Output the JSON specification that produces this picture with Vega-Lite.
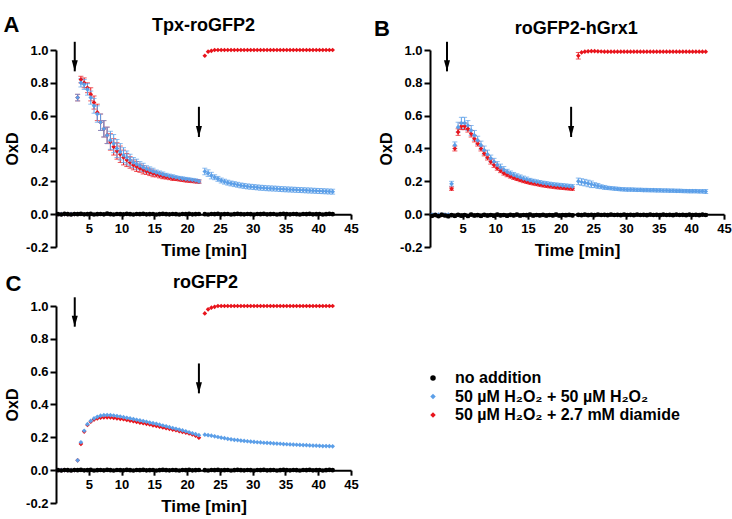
{
"$schema":"https://vega.github.io/schema/vega-lite/v6.json",
"padding":{"left":3,"top":13,"right":0,"bottom":0},
"background":"white",
"datasets":{
"A":[
{"s":"r","t":0.3,"v":0},{"s":"r","t":0.8,"v":0},{"s":"r","t":1.3,"v":0},{"s":"r","t":1.8,"v":0},{"s":"r","t":2.3,"v":0},{"s":"r","t":2.8,"v":0},
{"s":"r","t":3.3,"v":0.71,"e":0.02},{"s":"r","t":3.8,"v":0.82,"e":0.02},{"s":"r","t":4.3,"v":0.8,"e":0.03},{"s":"r","t":4.8,"v":0.77,"e":0.03},{"s":"r","t":5.3,"v":0.73,"e":0.04},{"s":"r","t":5.8,"v":0.68,"e":0.04},{"s":"r","t":6.3,"v":0.62,"e":0.05},{"s":"r","t":6.8,"v":0.56,"e":0.05},{"s":"r","t":7.3,"v":0.52,"e":0.05},{"s":"r","t":7.8,"v":0.48,"e":0.05},{"s":"r","t":8.3,"v":0.44,"e":0.05},{"s":"r","t":8.8,"v":0.41,"e":0.05},{"s":"r","t":9.3,"v":0.385,"e":0.05},{"s":"r","t":9.8,"v":0.365,"e":0.05},{"s":"r","t":10.3,"v":0.345,"e":0.045},{"s":"r","t":10.8,"v":0.33,"e":0.04},{"s":"r","t":11.3,"v":0.315,"e":0.035},{"s":"r","t":11.8,"v":0.3,"e":0.03},{"s":"r","t":12.3,"v":0.29,"e":0.03},{"s":"r","t":12.8,"v":0.28,"e":0.025},{"s":"r","t":13.3,"v":0.27,"e":0.025},{"s":"r","t":13.8,"v":0.262,"e":0.02},{"s":"r","t":14.3,"v":0.255,"e":0.02},{"s":"r","t":14.8,"v":0.248,"e":0.02},{"s":"r","t":15.3,"v":0.242,"e":0.015},{"s":"r","t":15.8,"v":0.236,"e":0.015},{"s":"r","t":16.3,"v":0.231,"e":0.015},{"s":"r","t":16.8,"v":0.226,"e":0.012},{"s":"r","t":17.3,"v":0.222,"e":0.012},{"s":"r","t":17.8,"v":0.218,"e":0.012},{"s":"r","t":18.3,"v":0.215,"e":0.01},{"s":"r","t":18.8,"v":0.212,"e":0.01},{"s":"r","t":19.3,"v":0.209,"e":0.01},{"s":"r","t":19.8,"v":0.206,"e":0.01},{"s":"r","t":20.3,"v":0.204,"e":0.01},{"s":"r","t":20.8,"v":0.202,"e":0.01},{"s":"r","t":21.3,"v":0.2,"e":0.01},{"s":"r","t":21.8,"v":0.198,"e":0.01},
{"s":"r","t":22.7,"v":0.965},{"s":"r","t":23.2,"v":0.99},{"s":"r","t":23.7,"v":0.995},{"s":"r","t":24.2,"v":1},{"s":"r","t":24.7,"v":1},{"s":"r","t":25.2,"v":1},{"s":"r","t":25.7,"v":1},{"s":"r","t":26.2,"v":1},{"s":"r","t":26.7,"v":1},{"s":"r","t":27.2,"v":1},{"s":"r","t":27.7,"v":1},{"s":"r","t":28.2,"v":1},{"s":"r","t":28.7,"v":1},{"s":"r","t":29.2,"v":1},{"s":"r","t":29.7,"v":1},{"s":"r","t":30.2,"v":1},{"s":"r","t":30.7,"v":1},{"s":"r","t":31.2,"v":1},{"s":"r","t":31.7,"v":1},{"s":"r","t":32.2,"v":1},{"s":"r","t":32.7,"v":1},{"s":"r","t":33.2,"v":1},{"s":"r","t":33.7,"v":1},{"s":"r","t":34.2,"v":1},{"s":"r","t":34.7,"v":1},{"s":"r","t":35.2,"v":1},{"s":"r","t":35.7,"v":1},{"s":"r","t":36.2,"v":1},{"s":"r","t":36.7,"v":1},{"s":"r","t":37.2,"v":1},{"s":"r","t":37.7,"v":1},{"s":"r","t":38.2,"v":1},{"s":"r","t":38.7,"v":1},{"s":"r","t":39.2,"v":1},{"s":"r","t":39.7,"v":1},{"s":"r","t":40.2,"v":1},{"s":"r","t":40.7,"v":1},{"s":"r","t":41.2,"v":1},{"s":"r","t":41.7,"v":1},{"s":"r","t":42.2,"v":1},
{"s":"b","t":0.3,"v":0},{"s":"b","t":0.8,"v":0},{"s":"b","t":1.3,"v":0},{"s":"b","t":1.8,"v":0},{"s":"b","t":2.3,"v":0},{"s":"b","t":2.8,"v":0},
{"s":"b","t":3.3,"v":0.71,"e":0.02},{"s":"b","t":3.8,"v":0.8,"e":0.025},{"s":"b","t":4.3,"v":0.79,"e":0.03},{"s":"b","t":4.8,"v":0.76,"e":0.035},{"s":"b","t":5.3,"v":0.71,"e":0.04},{"s":"b","t":5.8,"v":0.66,"e":0.045},{"s":"b","t":6.3,"v":0.61,"e":0.05},{"s":"b","t":6.8,"v":0.56,"e":0.05},{"s":"b","t":7.3,"v":0.52,"e":0.05},{"s":"b","t":7.8,"v":0.48,"e":0.05},{"s":"b","t":8.3,"v":0.45,"e":0.055},{"s":"b","t":8.8,"v":0.43,"e":0.055},{"s":"b","t":9.3,"v":0.4,"e":0.055},{"s":"b","t":9.8,"v":0.38,"e":0.05},{"s":"b","t":10.3,"v":0.36,"e":0.045},{"s":"b","t":10.8,"v":0.345,"e":0.04},{"s":"b","t":11.3,"v":0.33,"e":0.035},{"s":"b","t":11.8,"v":0.315,"e":0.03},{"s":"b","t":12.3,"v":0.305,"e":0.03},{"s":"b","t":12.8,"v":0.295,"e":0.025},{"s":"b","t":13.3,"v":0.285,"e":0.025},{"s":"b","t":13.8,"v":0.275,"e":0.02},{"s":"b","t":14.3,"v":0.268,"e":0.02},{"s":"b","t":14.8,"v":0.26,"e":0.02},{"s":"b","t":15.3,"v":0.254,"e":0.015},{"s":"b","t":15.8,"v":0.248,"e":0.015},{"s":"b","t":16.3,"v":0.242,"e":0.015},{"s":"b","t":16.8,"v":0.237,"e":0.012},{"s":"b","t":17.3,"v":0.232,"e":0.012},{"s":"b","t":17.8,"v":0.228,"e":0.012},{"s":"b","t":18.3,"v":0.224,"e":0.01},{"s":"b","t":18.8,"v":0.22,"e":0.01},{"s":"b","t":19.3,"v":0.217,"e":0.01},{"s":"b","t":19.8,"v":0.214,"e":0.01},{"s":"b","t":20.3,"v":0.211,"e":0.01},{"s":"b","t":20.8,"v":0.208,"e":0.01},{"s":"b","t":21.3,"v":0.205,"e":0.01},{"s":"b","t":21.8,"v":0.2,"e":0.01},
{"s":"b","t":22.7,"v":0.26,"e":0.02},{"s":"b","t":23.2,"v":0.25,"e":0.02},{"s":"b","t":23.7,"v":0.235,"e":0.02},{"s":"b","t":24.2,"v":0.225,"e":0.015},{"s":"b","t":24.7,"v":0.215,"e":0.015},{"s":"b","t":25.2,"v":0.205,"e":0.015},{"s":"b","t":25.7,"v":0.198,"e":0.015},{"s":"b","t":26.2,"v":0.192,"e":0.015},{"s":"b","t":26.7,"v":0.187,"e":0.015},{"s":"b","t":27.2,"v":0.183,"e":0.015},{"s":"b","t":27.7,"v":0.179,"e":0.015},{"s":"b","t":28.2,"v":0.175,"e":0.015},{"s":"b","t":28.7,"v":0.172,"e":0.015},{"s":"b","t":29.2,"v":0.169,"e":0.015},{"s":"b","t":29.7,"v":0.167,"e":0.015},{"s":"b","t":30.2,"v":0.165,"e":0.015},{"s":"b","t":30.7,"v":0.163,"e":0.015},{"s":"b","t":31.2,"v":0.161,"e":0.015},{"s":"b","t":31.7,"v":0.16,"e":0.015},{"s":"b","t":32.2,"v":0.158,"e":0.015},{"s":"b","t":32.7,"v":0.157,"e":0.015},{"s":"b","t":33.2,"v":0.156,"e":0.015},{"s":"b","t":33.7,"v":0.155,"e":0.015},{"s":"b","t":34.2,"v":0.153,"e":0.015},{"s":"b","t":34.7,"v":0.152,"e":0.015},{"s":"b","t":35.2,"v":0.151,"e":0.015},{"s":"b","t":35.7,"v":0.15,"e":0.015},{"s":"b","t":36.2,"v":0.149,"e":0.015},{"s":"b","t":36.7,"v":0.148,"e":0.015},{"s":"b","t":37.2,"v":0.147,"e":0.015},{"s":"b","t":37.7,"v":0.146,"e":0.015},{"s":"b","t":38.2,"v":0.145,"e":0.015},{"s":"b","t":38.7,"v":0.144,"e":0.015},{"s":"b","t":39.2,"v":0.143,"e":0.015},{"s":"b","t":39.7,"v":0.142,"e":0.015},{"s":"b","t":40.2,"v":0.141,"e":0.015},{"s":"b","t":40.7,"v":0.14,"e":0.015},{"s":"b","t":41.2,"v":0.139,"e":0.015},{"s":"b","t":41.7,"v":0.138,"e":0.015},{"s":"b","t":42.2,"v":0.137,"e":0.015},
{"s":"n","t":0.3,"v":0},{"s":"n","t":0.8,"v":-0.002},{"s":"n","t":1.3,"v":0.002},{"s":"n","t":1.8,"v":0},{"s":"n","t":2.3,"v":-0.002},{"s":"n","t":2.8,"v":0.001},{"s":"n","t":3.3,"v":0},{"s":"n","t":3.8,"v":0.002},{"s":"n","t":4.3,"v":-0.001},{"s":"n","t":4.8,"v":0},{"s":"n","t":5.3,"v":0.002},{"s":"n","t":5.8,"v":-0.002},{"s":"n","t":6.3,"v":0},{"s":"n","t":6.8,"v":0.001},{"s":"n","t":7.3,"v":-0.001},{"s":"n","t":7.8,"v":0.004},{"s":"n","t":8.3,"v":0},{"s":"n","t":8.8,"v":-0.002},{"s":"n","t":9.3,"v":0.001},{"s":"n","t":9.8,"v":0},{"s":"n","t":10.3,"v":-0.001},{"s":"n","t":10.8,"v":0.002},{"s":"n","t":11.3,"v":0},{"s":"n","t":11.8,"v":-0.002},{"s":"n","t":12.3,"v":0.001},{"s":"n","t":12.8,"v":0},{"s":"n","t":13.3,"v":0.002},{"s":"n","t":13.8,"v":-0.001},{"s":"n","t":14.3,"v":0},{"s":"n","t":14.8,"v":0.001},{"s":"n","t":15.3,"v":-0.002},{"s":"n","t":15.8,"v":0},{"s":"n","t":16.3,"v":0.002},{"s":"n","t":16.8,"v":0},{"s":"n","t":17.3,"v":-0.001},{"s":"n","t":17.8,"v":0.001},{"s":"n","t":18.3,"v":0},{"s":"n","t":18.8,"v":-0.002},{"s":"n","t":19.3,"v":0.001},{"s":"n","t":19.8,"v":0},{"s":"n","t":20.3,"v":0.002},{"s":"n","t":20.8,"v":-0.001},{"s":"n","t":21.3,"v":0},{"s":"n","t":21.8,"v":0.001},
{"s":"n","t":22.7,"v":0},{"s":"n","t":23.2,"v":-0.002},{"s":"n","t":23.7,"v":0.001},{"s":"n","t":24.2,"v":0},{"s":"n","t":24.7,"v":0.002},{"s":"n","t":25.2,"v":-0.001},{"s":"n","t":25.7,"v":0},{"s":"n","t":26.2,"v":0.001},{"s":"n","t":26.7,"v":-0.002},{"s":"n","t":27.2,"v":0},{"s":"n","t":27.7,"v":0.002},{"s":"n","t":28.2,"v":0},{"s":"n","t":28.7,"v":-0.001},{"s":"n","t":29.2,"v":0.001},{"s":"n","t":29.7,"v":0},{"s":"n","t":30.2,"v":-0.002},{"s":"n","t":30.7,"v":0.001},{"s":"n","t":31.2,"v":0},{"s":"n","t":31.7,"v":0.002},{"s":"n","t":32.2,"v":-0.001},{"s":"n","t":32.7,"v":0},{"s":"n","t":33.2,"v":0.001},{"s":"n","t":33.7,"v":-0.002},{"s":"n","t":34.2,"v":0},{"s":"n","t":34.7,"v":0.002},{"s":"n","t":35.2,"v":0},{"s":"n","t":35.7,"v":-0.001},{"s":"n","t":36.2,"v":0.001},{"s":"n","t":36.7,"v":0},{"s":"n","t":37.2,"v":-0.002},{"s":"n","t":37.7,"v":0.001},{"s":"n","t":38.2,"v":0},{"s":"n","t":38.7,"v":0.002},{"s":"n","t":39.2,"v":-0.001},{"s":"n","t":39.7,"v":0},{"s":"n","t":40.2,"v":0.001},{"s":"n","t":40.7,"v":-0.002},{"s":"n","t":41.2,"v":0},{"s":"n","t":41.7,"v":0.002},{"s":"n","t":42.2,"v":0}
],
"B":[
{"s":"r","t":0.3,"v":-0.005},{"s":"r","t":0.8,"v":-0.005},{"s":"r","t":1.3,"v":-0.005},{"s":"r","t":1.8,"v":-0.005},{"s":"r","t":2.3,"v":-0.005},{"s":"r","t":2.8,"v":-0.005},
{"s":"r","t":3.3,"v":0.155,"e":0.01},{"s":"r","t":3.8,"v":0.4,"e":0.015},{"s":"r","t":4.3,"v":0.5,"e":0.02},{"s":"r","t":4.8,"v":0.535,"e":0.02},{"s":"r","t":5.3,"v":0.535,"e":0.02},{"s":"r","t":5.8,"v":0.52,"e":0.02},{"s":"r","t":6.3,"v":0.49,"e":0.02},{"s":"r","t":6.8,"v":0.46,"e":0.02},{"s":"r","t":7.3,"v":0.43,"e":0.015},{"s":"r","t":7.8,"v":0.4,"e":0.015},{"s":"r","t":8.3,"v":0.37,"e":0.015},{"s":"r","t":8.8,"v":0.345,"e":0.015},{"s":"r","t":9.3,"v":0.32,"e":0.015},{"s":"r","t":9.8,"v":0.3,"e":0.015},{"s":"r","t":10.3,"v":0.28,"e":0.012},{"s":"r","t":10.8,"v":0.265,"e":0.012},{"s":"r","t":11.3,"v":0.25,"e":0.012},{"s":"r","t":11.8,"v":0.24,"e":0.012},{"s":"r","t":12.3,"v":0.23,"e":0.01},{"s":"r","t":12.8,"v":0.222,"e":0.01},{"s":"r","t":13.3,"v":0.215,"e":0.01},{"s":"r","t":13.8,"v":0.208,"e":0.01},{"s":"r","t":14.3,"v":0.202,"e":0.01},{"s":"r","t":14.8,"v":0.197,"e":0.01},{"s":"r","t":15.3,"v":0.192,"e":0.01},{"s":"r","t":15.8,"v":0.188,"e":0.01},{"s":"r","t":16.3,"v":0.184,"e":0.01},{"s":"r","t":16.8,"v":0.18,"e":0.01},{"s":"r","t":17.3,"v":0.176,"e":0.01},{"s":"r","t":17.8,"v":0.173,"e":0.01},{"s":"r","t":18.3,"v":0.17,"e":0.01},{"s":"r","t":18.8,"v":0.168,"e":0.01},{"s":"r","t":19.3,"v":0.165,"e":0.01},{"s":"r","t":19.8,"v":0.163,"e":0.01},{"s":"r","t":20.3,"v":0.161,"e":0.01},{"s":"r","t":20.8,"v":0.159,"e":0.01},{"s":"r","t":21.3,"v":0.157,"e":0.01},{"s":"r","t":21.8,"v":0.155,"e":0.01},
{"s":"r","t":22.7,"v":0.965,"e":0.02},{"s":"r","t":23.2,"v":0.985},{"s":"r","t":23.7,"v":0.99},{"s":"r","t":24.2,"v":0.992},{"s":"r","t":24.7,"v":0.993},{"s":"r","t":25.2,"v":0.993},{"s":"r","t":25.7,"v":0.992},{"s":"r","t":26.2,"v":0.991},{"s":"r","t":26.7,"v":0.99},{"s":"r","t":27.2,"v":0.99},{"s":"r","t":27.7,"v":0.99},{"s":"r","t":28.2,"v":0.99},{"s":"r","t":28.7,"v":0.99},{"s":"r","t":29.2,"v":0.99},{"s":"r","t":29.7,"v":0.99},{"s":"r","t":30.2,"v":0.99},{"s":"r","t":30.7,"v":0.99},{"s":"r","t":31.2,"v":0.99},{"s":"r","t":31.7,"v":0.99},{"s":"r","t":32.2,"v":0.99},{"s":"r","t":32.7,"v":0.99},{"s":"r","t":33.2,"v":0.99},{"s":"r","t":33.7,"v":0.99},{"s":"r","t":34.2,"v":0.99},{"s":"r","t":34.7,"v":0.99},{"s":"r","t":35.2,"v":0.99},{"s":"r","t":35.7,"v":0.99},{"s":"r","t":36.2,"v":0.99},{"s":"r","t":36.7,"v":0.99},{"s":"r","t":37.2,"v":0.99},{"s":"r","t":37.7,"v":0.99},{"s":"r","t":38.2,"v":0.99},{"s":"r","t":38.7,"v":0.99},{"s":"r","t":39.2,"v":0.99},{"s":"r","t":39.7,"v":0.99},{"s":"r","t":40.2,"v":0.99},{"s":"r","t":40.7,"v":0.99},{"s":"r","t":41.2,"v":0.99},{"s":"r","t":41.7,"v":0.99},{"s":"r","t":42.2,"v":0.99},
{"s":"b","t":0.3,"v":-0.003},{"s":"b","t":0.8,"v":-0.003},{"s":"b","t":1.3,"v":-0.003},{"s":"b","t":1.8,"v":-0.003},{"s":"b","t":2.3,"v":-0.003},{"s":"b","t":2.8,"v":-0.003},
{"s":"b","t":3.3,"v":0.185,"e":0.015},{"s":"b","t":3.8,"v":0.42,"e":0.02},{"s":"b","t":4.3,"v":0.53,"e":0.03},{"s":"b","t":4.8,"v":0.555,"e":0.035},{"s":"b","t":5.3,"v":0.555,"e":0.035},{"s":"b","t":5.8,"v":0.54,"e":0.03},{"s":"b","t":6.3,"v":0.51,"e":0.03},{"s":"b","t":6.8,"v":0.48,"e":0.03},{"s":"b","t":7.3,"v":0.45,"e":0.025},{"s":"b","t":7.8,"v":0.42,"e":0.025},{"s":"b","t":8.3,"v":0.39,"e":0.025},{"s":"b","t":8.8,"v":0.365,"e":0.025},{"s":"b","t":9.3,"v":0.34,"e":0.02},{"s":"b","t":9.8,"v":0.32,"e":0.02},{"s":"b","t":10.3,"v":0.3,"e":0.02},{"s":"b","t":10.8,"v":0.285,"e":0.02},{"s":"b","t":11.3,"v":0.27,"e":0.02},{"s":"b","t":11.8,"v":0.258,"e":0.015},{"s":"b","t":12.3,"v":0.248,"e":0.015},{"s":"b","t":12.8,"v":0.239,"e":0.015},{"s":"b","t":13.3,"v":0.231,"e":0.015},{"s":"b","t":13.8,"v":0.224,"e":0.015},{"s":"b","t":14.3,"v":0.217,"e":0.015},{"s":"b","t":14.8,"v":0.211,"e":0.015},{"s":"b","t":15.3,"v":0.206,"e":0.012},{"s":"b","t":15.8,"v":0.201,"e":0.012},{"s":"b","t":16.3,"v":0.197,"e":0.012},{"s":"b","t":16.8,"v":0.193,"e":0.012},{"s":"b","t":17.3,"v":0.189,"e":0.012},{"s":"b","t":17.8,"v":0.186,"e":0.012},{"s":"b","t":18.3,"v":0.183,"e":0.012},{"s":"b","t":18.8,"v":0.18,"e":0.012},{"s":"b","t":19.3,"v":0.178,"e":0.012},{"s":"b","t":19.8,"v":0.176,"e":0.012},{"s":"b","t":20.3,"v":0.174,"e":0.012},{"s":"b","t":20.8,"v":0.172,"e":0.012},{"s":"b","t":21.3,"v":0.17,"e":0.012},{"s":"b","t":21.8,"v":0.168,"e":0.012},
{"s":"b","t":22.7,"v":0.2,"e":0.02},{"s":"b","t":23.2,"v":0.196,"e":0.02},{"s":"b","t":23.7,"v":0.192,"e":0.02},{"s":"b","t":24.2,"v":0.187,"e":0.02},{"s":"b","t":24.7,"v":0.182,"e":0.02},{"s":"b","t":25.2,"v":0.177,"e":0.015},{"s":"b","t":25.7,"v":0.172,"e":0.015},{"s":"b","t":26.2,"v":0.167,"e":0.012},{"s":"b","t":26.7,"v":0.163,"e":0.012},{"s":"b","t":27.2,"v":0.16,"e":0.01},{"s":"b","t":27.7,"v":0.158,"e":0.01},{"s":"b","t":28.2,"v":0.156,"e":0.01},{"s":"b","t":28.7,"v":0.154,"e":0.01},{"s":"b","t":29.2,"v":0.152,"e":0.01},{"s":"b","t":29.7,"v":0.151,"e":0.01},{"s":"b","t":30.2,"v":0.15,"e":0.01},{"s":"b","t":30.7,"v":0.15,"e":0.01},{"s":"b","t":31.2,"v":0.149,"e":0.01},{"s":"b","t":31.7,"v":0.148,"e":0.01},{"s":"b","t":32.2,"v":0.148,"e":0.01},{"s":"b","t":32.7,"v":0.147,"e":0.01},{"s":"b","t":33.2,"v":0.147,"e":0.01},{"s":"b","t":33.7,"v":0.146,"e":0.01},{"s":"b","t":34.2,"v":0.146,"e":0.01},{"s":"b","t":34.7,"v":0.145,"e":0.01},{"s":"b","t":35.2,"v":0.145,"e":0.01},{"s":"b","t":35.7,"v":0.144,"e":0.01},{"s":"b","t":36.2,"v":0.144,"e":0.01},{"s":"b","t":36.7,"v":0.143,"e":0.01},{"s":"b","t":37.2,"v":0.143,"e":0.01},{"s":"b","t":37.7,"v":0.142,"e":0.01},{"s":"b","t":38.2,"v":0.142,"e":0.01},{"s":"b","t":38.7,"v":0.141,"e":0.01},{"s":"b","t":39.2,"v":0.141,"e":0.01},{"s":"b","t":39.7,"v":0.14,"e":0.01},{"s":"b","t":40.2,"v":0.14,"e":0.01},{"s":"b","t":40.7,"v":0.14,"e":0.01},{"s":"b","t":41.2,"v":0.139,"e":0.01},{"s":"b","t":41.7,"v":0.139,"e":0.01},{"s":"b","t":42.2,"v":0.138,"e":0.012},
{"s":"n","t":0.3,"v":-0.01,"e":0.008},{"s":"n","t":0.8,"v":-0.005,"e":0.01},{"s":"n","t":1.3,"v":-0.012,"e":0.008},{"s":"n","t":1.8,"v":-0.004,"e":0.01},{"s":"n","t":2.3,"v":-0.008,"e":0.008},{"s":"n","t":2.8,"v":-0.012,"e":0.01},{"s":"n","t":3.3,"v":-0.006,"e":0.008},{"s":"n","t":3.8,"v":-0.01,"e":0.01},{"s":"n","t":4.3,"v":-0.004,"e":0.008},{"s":"n","t":4.8,"v":-0.009,"e":0.01},{"s":"n","t":5.3,"v":-0.005,"e":0.008},{"s":"n","t":5.8,"v":-0.011,"e":0.01},{"s":"n","t":6.3,"v":-0.003,"e":0.008},{"s":"n","t":6.8,"v":-0.008,"e":0.01},{"s":"n","t":7.3,"v":-0.006,"e":0.008},{"s":"n","t":7.8,"v":-0.01,"e":0.01},{"s":"n","t":8.3,"v":-0.004,"e":0.008},{"s":"n","t":8.8,"v":-0.008,"e":0.01},{"s":"n","t":9.3,"v":-0.005,"e":0.008},{"s":"n","t":9.8,"v":-0.009,"e":0.01},{"s":"n","t":10.3,"v":-0.003,"e":0.008},{"s":"n","t":10.8,"v":-0.007,"e":0.01},{"s":"n","t":11.3,"v":-0.005,"e":0.008},{"s":"n","t":11.8,"v":-0.009,"e":0.01},{"s":"n","t":12.3,"v":-0.004,"e":0.008},{"s":"n","t":12.8,"v":-0.007,"e":0.01},{"s":"n","t":13.3,"v":-0.003,"e":0.008},{"s":"n","t":13.8,"v":-0.008,"e":0.01},{"s":"n","t":14.3,"v":-0.005,"e":0.008},{"s":"n","t":14.8,"v":-0.006,"e":0.01},{"s":"n","t":15.3,"v":-0.003,"e":0.008},{"s":"n","t":15.8,"v":-0.008,"e":0.01},{"s":"n","t":16.3,"v":-0.005,"e":0.008},{"s":"n","t":16.8,"v":-0.007,"e":0.01},{"s":"n","t":17.3,"v":-0.004,"e":0.008},{"s":"n","t":17.8,"v":-0.008,"e":0.01},{"s":"n","t":18.3,"v":-0.005,"e":0.008},{"s":"n","t":18.8,"v":-0.007,"e":0.01},{"s":"n","t":19.3,"v":-0.003,"e":0.008},{"s":"n","t":19.8,"v":-0.008,"e":0.01},{"s":"n","t":20.3,"v":-0.005,"e":0.008},{"s":"n","t":20.8,"v":-0.006,"e":0.01},{"s":"n","t":21.3,"v":-0.004,"e":0.008},{"s":"n","t":21.8,"v":-0.007,"e":0.01},
{"s":"n","t":22.7,"v":-0.004,"e":0.008},{"s":"n","t":23.2,"v":-0.006,"e":0.008},{"s":"n","t":23.7,"v":-0.003,"e":0.006},{"s":"n","t":24.2,"v":-0.006,"e":0.008},{"s":"n","t":24.7,"v":-0.004,"e":0.006},{"s":"n","t":25.2,"v":-0.006,"e":0.008},{"s":"n","t":25.7,"v":-0.003,"e":0.006},{"s":"n","t":26.2,"v":-0.005,"e":0.008},{"s":"n","t":26.7,"v":-0.004,"e":0.006},{"s":"n","t":27.2,"v":-0.006,"e":0.008},{"s":"n","t":27.7,"v":-0.003,"e":0.006},{"s":"n","t":28.2,"v":-0.005,"e":0.008},{"s":"n","t":28.7,"v":-0.004,"e":0.006},{"s":"n","t":29.2,"v":-0.006,"e":0.008},{"s":"n","t":29.7,"v":-0.003,"e":0.006},{"s":"n","t":30.2,"v":-0.005,"e":0.008},{"s":"n","t":30.7,"v":-0.004,"e":0.006},{"s":"n","t":31.2,"v":-0.006,"e":0.008},{"s":"n","t":31.7,"v":-0.003,"e":0.006},{"s":"n","t":32.2,"v":-0.005,"e":0.008},{"s":"n","t":32.7,"v":-0.004,"e":0.006},{"s":"n","t":33.2,"v":-0.006,"e":0.008},{"s":"n","t":33.7,"v":-0.003,"e":0.006},{"s":"n","t":34.2,"v":-0.005,"e":0.008},{"s":"n","t":34.7,"v":-0.004,"e":0.006},{"s":"n","t":35.2,"v":-0.006,"e":0.008},{"s":"n","t":35.7,"v":-0.003,"e":0.006},{"s":"n","t":36.2,"v":-0.005,"e":0.008},{"s":"n","t":36.7,"v":-0.004,"e":0.006},{"s":"n","t":37.2,"v":-0.006,"e":0.008},{"s":"n","t":37.7,"v":-0.003,"e":0.006},{"s":"n","t":38.2,"v":-0.005,"e":0.008},{"s":"n","t":38.7,"v":-0.004,"e":0.006},{"s":"n","t":39.2,"v":-0.006,"e":0.008},{"s":"n","t":39.7,"v":-0.003,"e":0.006},{"s":"n","t":40.2,"v":-0.005,"e":0.008},{"s":"n","t":40.7,"v":-0.004,"e":0.006},{"s":"n","t":41.2,"v":-0.006,"e":0.008},{"s":"n","t":41.7,"v":-0.003,"e":0.006},{"s":"n","t":42.2,"v":-0.005,"e":0.008}
],
"C":[
{"s":"r","t":0.3,"v":0},{"s":"r","t":0.8,"v":0},{"s":"r","t":1.3,"v":0},{"s":"r","t":1.8,"v":0},{"s":"r","t":2.3,"v":0},{"s":"r","t":2.8,"v":0},
{"s":"r","t":3.3,"v":0.06},{"s":"r","t":3.8,"v":0.16},{"s":"r","t":4.3,"v":0.235},{"s":"r","t":4.8,"v":0.275},{"s":"r","t":5.3,"v":0.295},{"s":"r","t":5.8,"v":0.308},{"s":"r","t":6.3,"v":0.315},{"s":"r","t":6.8,"v":0.32},{"s":"r","t":7.3,"v":0.322},{"s":"r","t":7.8,"v":0.322},{"s":"r","t":8.3,"v":0.321},{"s":"r","t":8.8,"v":0.319},{"s":"r","t":9.3,"v":0.316},{"s":"r","t":9.8,"v":0.313},{"s":"r","t":10.3,"v":0.31},{"s":"r","t":10.8,"v":0.306},{"s":"r","t":11.3,"v":0.302},{"s":"r","t":11.8,"v":0.298},{"s":"r","t":12.3,"v":0.294},{"s":"r","t":12.8,"v":0.29},{"s":"r","t":13.3,"v":0.286},{"s":"r","t":13.8,"v":0.282},{"s":"r","t":14.3,"v":0.278},{"s":"r","t":14.8,"v":0.273},{"s":"r","t":15.3,"v":0.269},{"s":"r","t":15.8,"v":0.265},{"s":"r","t":16.3,"v":0.26},{"s":"r","t":16.8,"v":0.256},{"s":"r","t":17.3,"v":0.252},{"s":"r","t":17.8,"v":0.247},{"s":"r","t":18.3,"v":0.243},{"s":"r","t":18.8,"v":0.238},{"s":"r","t":19.3,"v":0.233},{"s":"r","t":19.8,"v":0.229},{"s":"r","t":20.3,"v":0.224},{"s":"r","t":20.8,"v":0.218},{"s":"r","t":21.3,"v":0.21},{"s":"r","t":21.8,"v":0.198},
{"s":"r","t":22.7,"v":0.955},{"s":"r","t":23.2,"v":0.98},{"s":"r","t":23.7,"v":0.99},{"s":"r","t":24.2,"v":0.995},{"s":"r","t":24.7,"v":1},{"s":"r","t":25.2,"v":1},{"s":"r","t":25.7,"v":1},{"s":"r","t":26.2,"v":1},{"s":"r","t":26.7,"v":1},{"s":"r","t":27.2,"v":1},{"s":"r","t":27.7,"v":1},{"s":"r","t":28.2,"v":1},{"s":"r","t":28.7,"v":1},{"s":"r","t":29.2,"v":1},{"s":"r","t":29.7,"v":1},{"s":"r","t":30.2,"v":1},{"s":"r","t":30.7,"v":1},{"s":"r","t":31.2,"v":1},{"s":"r","t":31.7,"v":1},{"s":"r","t":32.2,"v":1},{"s":"r","t":32.7,"v":1},{"s":"r","t":33.2,"v":1},{"s":"r","t":33.7,"v":1},{"s":"r","t":34.2,"v":1},{"s":"r","t":34.7,"v":1},{"s":"r","t":35.2,"v":1},{"s":"r","t":35.7,"v":1},{"s":"r","t":36.2,"v":1},{"s":"r","t":36.7,"v":1},{"s":"r","t":37.2,"v":1},{"s":"r","t":37.7,"v":1},{"s":"r","t":38.2,"v":1},{"s":"r","t":38.7,"v":1},{"s":"r","t":39.2,"v":1},{"s":"r","t":39.7,"v":1},{"s":"r","t":40.2,"v":1},{"s":"r","t":40.7,"v":1},{"s":"r","t":41.2,"v":1},{"s":"r","t":41.7,"v":1},{"s":"r","t":42.2,"v":1},
{"s":"b","t":0.3,"v":0},{"s":"b","t":0.8,"v":0},{"s":"b","t":1.3,"v":0},{"s":"b","t":1.8,"v":0},{"s":"b","t":2.3,"v":0},{"s":"b","t":2.8,"v":0},
{"s":"b","t":3.3,"v":0.06},{"s":"b","t":3.8,"v":0.17},{"s":"b","t":4.3,"v":0.24},{"s":"b","t":4.8,"v":0.28},{"s":"b","t":5.3,"v":0.3},{"s":"b","t":5.8,"v":0.315},{"s":"b","t":6.3,"v":0.325},{"s":"b","t":6.8,"v":0.332},{"s":"b","t":7.3,"v":0.335},{"s":"b","t":7.8,"v":0.336},{"s":"b","t":8.3,"v":0.335},{"s":"b","t":8.8,"v":0.333},{"s":"b","t":9.3,"v":0.33},{"s":"b","t":9.8,"v":0.327},{"s":"b","t":10.3,"v":0.323},{"s":"b","t":10.8,"v":0.319},{"s":"b","t":11.3,"v":0.315},{"s":"b","t":11.8,"v":0.311},{"s":"b","t":12.3,"v":0.307},{"s":"b","t":12.8,"v":0.303},{"s":"b","t":13.3,"v":0.299},{"s":"b","t":13.8,"v":0.295},{"s":"b","t":14.3,"v":0.29},{"s":"b","t":14.8,"v":0.286},{"s":"b","t":15.3,"v":0.282},{"s":"b","t":15.8,"v":0.277},{"s":"b","t":16.3,"v":0.272},{"s":"b","t":16.8,"v":0.267},{"s":"b","t":17.3,"v":0.262},{"s":"b","t":17.8,"v":0.257},{"s":"b","t":18.3,"v":0.252},{"s":"b","t":18.8,"v":0.247},{"s":"b","t":19.3,"v":0.242},{"s":"b","t":19.8,"v":0.237},{"s":"b","t":20.3,"v":0.231},{"s":"b","t":20.8,"v":0.225},{"s":"b","t":21.3,"v":0.219},{"s":"b","t":21.8,"v":0.213},
{"s":"b","t":22.7,"v":0.216},{"s":"b","t":23.2,"v":0.213},{"s":"b","t":23.7,"v":0.21},{"s":"b","t":24.2,"v":0.206},{"s":"b","t":24.7,"v":0.202},{"s":"b","t":25.2,"v":0.198},{"s":"b","t":25.7,"v":0.195},{"s":"b","t":26.2,"v":0.191},{"s":"b","t":26.7,"v":0.188},{"s":"b","t":27.2,"v":0.185},{"s":"b","t":27.7,"v":0.183},{"s":"b","t":28.2,"v":0.18},{"s":"b","t":28.7,"v":0.178},{"s":"b","t":29.2,"v":0.176},{"s":"b","t":29.7,"v":0.174},{"s":"b","t":30.2,"v":0.172},{"s":"b","t":30.7,"v":0.17},{"s":"b","t":31.2,"v":0.169},{"s":"b","t":31.7,"v":0.167},{"s":"b","t":32.2,"v":0.166},{"s":"b","t":32.7,"v":0.165},{"s":"b","t":33.2,"v":0.163},{"s":"b","t":33.7,"v":0.162},{"s":"b","t":34.2,"v":0.161},{"s":"b","t":34.7,"v":0.159},{"s":"b","t":35.2,"v":0.158},{"s":"b","t":35.7,"v":0.157},{"s":"b","t":36.2,"v":0.156},{"s":"b","t":36.7,"v":0.155},{"s":"b","t":37.2,"v":0.154},{"s":"b","t":37.7,"v":0.153},{"s":"b","t":38.2,"v":0.152},{"s":"b","t":38.7,"v":0.151},{"s":"b","t":39.2,"v":0.15},{"s":"b","t":39.7,"v":0.149},{"s":"b","t":40.2,"v":0.148},{"s":"b","t":40.7,"v":0.147},{"s":"b","t":41.2,"v":0.147},{"s":"b","t":41.7,"v":0.146},{"s":"b","t":42.2,"v":0.145},
{"s":"n","t":0.3,"v":0},{"s":"n","t":0.8,"v":-0.002},{"s":"n","t":1.3,"v":0.001},{"s":"n","t":1.8,"v":0},{"s":"n","t":2.3,"v":-0.002},{"s":"n","t":2.8,"v":0.001},{"s":"n","t":3.3,"v":0},{"s":"n","t":3.8,"v":0.002},{"s":"n","t":4.3,"v":-0.001},{"s":"n","t":4.8,"v":0},{"s":"n","t":5.3,"v":0.002},{"s":"n","t":5.8,"v":-0.002},{"s":"n","t":6.3,"v":0},{"s":"n","t":6.8,"v":0.001},{"s":"n","t":7.3,"v":-0.001},{"s":"n","t":7.8,"v":0.002},{"s":"n","t":8.3,"v":0},{"s":"n","t":8.8,"v":-0.002},{"s":"n","t":9.3,"v":0.001},{"s":"n","t":9.8,"v":0},{"s":"n","t":10.3,"v":-0.001},{"s":"n","t":10.8,"v":0.002},{"s":"n","t":11.3,"v":0},{"s":"n","t":11.8,"v":-0.002},{"s":"n","t":12.3,"v":0.001},{"s":"n","t":12.8,"v":0},{"s":"n","t":13.3,"v":0.002},{"s":"n","t":13.8,"v":-0.001},{"s":"n","t":14.3,"v":0},{"s":"n","t":14.8,"v":0.001},{"s":"n","t":15.3,"v":-0.002},{"s":"n","t":15.8,"v":0},{"s":"n","t":16.3,"v":0.002},{"s":"n","t":16.8,"v":0},{"s":"n","t":17.3,"v":-0.001},{"s":"n","t":17.8,"v":0.001},{"s":"n","t":18.3,"v":0},{"s":"n","t":18.8,"v":-0.002},{"s":"n","t":19.3,"v":0.001},{"s":"n","t":19.8,"v":0},{"s":"n","t":20.3,"v":0.002},{"s":"n","t":20.8,"v":-0.001},{"s":"n","t":21.3,"v":0},{"s":"n","t":21.8,"v":0.001},
{"s":"n","t":22.7,"v":0},{"s":"n","t":23.2,"v":-0.002},{"s":"n","t":23.7,"v":0.001},{"s":"n","t":24.2,"v":0},{"s":"n","t":24.7,"v":0.002},{"s":"n","t":25.2,"v":-0.001},{"s":"n","t":25.7,"v":0},{"s":"n","t":26.2,"v":0.001},{"s":"n","t":26.7,"v":-0.002},{"s":"n","t":27.2,"v":0},{"s":"n","t":27.7,"v":0.002},{"s":"n","t":28.2,"v":0},{"s":"n","t":28.7,"v":-0.001},{"s":"n","t":29.2,"v":0.001},{"s":"n","t":29.7,"v":0},{"s":"n","t":30.2,"v":-0.002},{"s":"n","t":30.7,"v":0.001},{"s":"n","t":31.2,"v":0},{"s":"n","t":31.7,"v":0.002},{"s":"n","t":32.2,"v":-0.001},{"s":"n","t":32.7,"v":0},{"s":"n","t":33.2,"v":0.001},{"s":"n","t":33.7,"v":-0.002},{"s":"n","t":34.2,"v":0},{"s":"n","t":34.7,"v":0.002},{"s":"n","t":35.2,"v":0},{"s":"n","t":35.7,"v":-0.001},{"s":"n","t":36.2,"v":0.001},{"s":"n","t":36.7,"v":0},{"s":"n","t":37.2,"v":-0.002},{"s":"n","t":37.7,"v":0.001},{"s":"n","t":38.2,"v":0},{"s":"n","t":38.7,"v":0.002},{"s":"n","t":39.2,"v":-0.001},{"s":"n","t":39.7,"v":0},{"s":"n","t":40.2,"v":0.001},{"s":"n","t":40.7,"v":-0.002},{"s":"n","t":41.2,"v":0},{"s":"n","t":41.7,"v":0.002},{"s":"n","t":42.2,"v":0}
],
"arrows":[
{"p":"A","t":2.86,"v":0.87,"top":1.05},{"p":"A","t":21.8,"v":0.47,"top":0.654},
{"p":"B","t":2.6,"v":0.87,"top":1.05},{"p":"B","t":21.6,"v":0.47,"top":0.654},
{"p":"C","t":2.86,"v":0.874,"top":1.053},{"p":"C","t":21.8,"v":0.468,"top":0.65}
],
"letters":[
{"p":"A","t":-6.8,"v":1.155,"txt":"A"},
{"p":"B","t":-7.35,"v":1.13,"txt":"B"},
{"p":"C","t":-6.5,"v":1.134,"txt":"C"}
],
"names":[
{"p":"A","t":22.5,"v":1.146,"txt":"Tpx-roGFP2"},
{"p":"B","t":22.4,"v":1.13,"txt":"roGFP2-hGrx1"},
{"p":"C","t":22.8,"v":1.14,"txt":"roGFP2"}
]
},
"vconcat":[
{"hconcat":[
{"width":295,"height":197,
"encoding":{
"x":{"field":"t","type":"quantitative","scale":{"domain":[0,45],"nice":false,"zero":false},"axis":{"title":"Time [min]","values":[5,10,15,20,25,30,35,40,45],"offset":-32.83}},
"y":{"field":"v","type":"quantitative","scale":{"domain":[-0.2,1],"nice":false},"axis":{"title":"OxD","values":[-0.2,0,0.2,0.4,0.6,0.8,1.0],"labelExpr":"replace(format(datum.value,'.1f'),'\u2212','-')"}}
},
"layer":[
{"data":{"name":"A"},"transform":[{"filter":"datum.s=='r' && isValid(datum.e)"}],"mark":{"type":"errorbar","ticks":{"size":5},"thickness":1,"color":"#E8141C"},"encoding":{"yError":{"field":"e"}}},
{"data":{"name":"A"},"transform":[{"filter":"datum.s=='b' && isValid(datum.e)"}],"mark":{"type":"errorbar","ticks":{"size":5},"thickness":1,"color":"#5C9FE8"},"encoding":{"yError":{"field":"e"}}},
{"data":{"name":"A"},"mark":{"type":"point","filled":true,"opacity":1,"size":22},"encoding":{"color":{"field":"s","type":"nominal","scale":{"domain":["n","b","r"],"range":["#000000","#5C9FE8","#E8141C"]},"legend":{"title":null,"labelExpr":"datum.label=='n'?'no addition':datum.label=='b'?'50 µM H₂O₂ + 50 µM H₂O₂':'50 µM H₂O₂ + 2.7 mM diamide'"}},"shape":{"field":"s","type":"nominal","scale":{"domain":["n","b","r"],"range":["circle","diamond","diamond"]},"legend":{"title":null,"labelExpr":"datum.label=='n'?'no addition':datum.label=='b'?'50 µM H₂O₂ + 50 µM H₂O₂':'50 µM H₂O₂ + 2.7 mM diamide'"}}}},
{"data":{"name":"arrows"},"transform":[{"filter":"datum.p=='A'"}],"mark":{"type":"rule","strokeWidth":2,"color":"black"},"encoding":{"y2":{"field":"top"}}},
{"data":{"name":"arrows"},"transform":[{"filter":"datum.p=='A'"}],"mark":{"type":"point","shape":"M-0.55,-1L0.55,-1L0,1Z","filled":true,"opacity":1,"color":"black","size":121,"yOffset":-5.5}},
{"data":{"name":"letters"},"transform":[{"filter":"datum.p=='A'"}],"mark":{"type":"text","fontSize":22,"fontWeight":"bold","font":"Liberation Sans","align":"center","baseline":"middle","color":"black"},"encoding":{"text":{"field":"txt"}}},
{"data":{"name":"names"},"transform":[{"filter":"datum.p=='A'"}],"mark":{"type":"text","fontSize":18,"fontWeight":"bold","font":"Liberation Sans","align":"center","baseline":"middle","color":"black"},"encoding":{"text":{"field":"txt"}}}
]},
{"width":294,"height":197,
"encoding":{
"x":{"field":"t","type":"quantitative","scale":{"domain":[0,45],"nice":false,"zero":false},"axis":{"title":"Time [min]","values":[5,10,15,20,25,30,35,40,45],"offset":-32.83}},
"y":{"field":"v","type":"quantitative","scale":{"domain":[-0.2,1],"nice":false},"axis":{"title":"OxD","values":[-0.2,0,0.2,0.4,0.6,0.8,1.0],"labelExpr":"replace(format(datum.value,'.1f'),'\u2212','-')"}}
},
"layer":[
{"data":{"name":"B"},"transform":[{"filter":"datum.s=='n' && isValid(datum.e)"}],"mark":{"type":"errorbar","ticks":{"size":4},"thickness":1,"color":"#000000"},"encoding":{"yError":{"field":"e"}}},
{"data":{"name":"B"},"transform":[{"filter":"datum.s=='b' && isValid(datum.e)"}],"mark":{"type":"errorbar","ticks":{"size":5},"thickness":1,"color":"#5C9FE8"},"encoding":{"yError":{"field":"e"}}},
{"data":{"name":"B"},"transform":[{"filter":"datum.s=='r' && isValid(datum.e)"}],"mark":{"type":"errorbar","ticks":{"size":5},"thickness":1,"color":"#E8141C"},"encoding":{"yError":{"field":"e"}}},
{"data":{"name":"B"},"mark":{"type":"point","filled":true,"opacity":1,"size":22},"encoding":{"color":{"field":"s","type":"nominal","scale":{"domain":["n","b","r"],"range":["#000000","#5C9FE8","#E8141C"]},"legend":{"title":null,"labelExpr":"datum.label=='n'?'no addition':datum.label=='b'?'50 µM H₂O₂ + 50 µM H₂O₂':'50 µM H₂O₂ + 2.7 mM diamide'"}},"shape":{"field":"s","type":"nominal","scale":{"domain":["n","b","r"],"range":["circle","diamond","diamond"]},"legend":{"title":null,"labelExpr":"datum.label=='n'?'no addition':datum.label=='b'?'50 µM H₂O₂ + 50 µM H₂O₂':'50 µM H₂O₂ + 2.7 mM diamide'"}}}},
{"data":{"name":"arrows"},"transform":[{"filter":"datum.p=='B'"}],"mark":{"type":"rule","strokeWidth":2,"color":"black"},"encoding":{"y2":{"field":"top"}}},
{"data":{"name":"arrows"},"transform":[{"filter":"datum.p=='B'"}],"mark":{"type":"point","shape":"M-0.55,-1L0.55,-1L0,1Z","filled":true,"opacity":1,"color":"black","size":121,"yOffset":-5.5}},
{"data":{"name":"letters"},"transform":[{"filter":"datum.p=='B'"}],"mark":{"type":"text","fontSize":22,"fontWeight":"bold","font":"Liberation Sans","align":"center","baseline":"middle","color":"black"},"encoding":{"text":{"field":"txt"}}},
{"data":{"name":"names"},"transform":[{"filter":"datum.p=='B'"}],"mark":{"type":"text","fontSize":18,"fontWeight":"bold","font":"Liberation Sans","align":"center","baseline":"middle","color":"black"},"encoding":{"text":{"field":"txt"}}}
]}
],"spacing":15},
{"width":295,"height":197,
"encoding":{
"x":{"field":"t","type":"quantitative","scale":{"domain":[0,45],"nice":false,"zero":false},"axis":{"title":"Time [min]","values":[5,10,15,20,25,30,35,40,45],"offset":-32.83}},
"y":{"field":"v","type":"quantitative","scale":{"domain":[-0.2,1],"nice":false},"axis":{"title":"OxD","values":[-0.2,0,0.2,0.4,0.6,0.8,1.0],"labelExpr":"replace(format(datum.value,'.1f'),'\u2212','-')"}}
},
"layer":[
{"data":{"name":"C"},"mark":{"type":"point","filled":true,"opacity":1,"size":22},"encoding":{"color":{"field":"s","type":"nominal","scale":{"domain":["n","b","r"],"range":["#000000","#5C9FE8","#E8141C"]},"legend":{"title":null,"labelExpr":"datum.label=='n'?'no addition':datum.label=='b'?'50 µM H₂O₂ + 50 µM H₂O₂':'50 µM H₂O₂ + 2.7 mM diamide'"}},"shape":{"field":"s","type":"nominal","scale":{"domain":["n","b","r"],"range":["circle","diamond","diamond"]},"legend":{"title":null,"labelExpr":"datum.label=='n'?'no addition':datum.label=='b'?'50 µM H₂O₂ + 50 µM H₂O₂':'50 µM H₂O₂ + 2.7 mM diamide'"}}}},
{"data":{"name":"arrows"},"transform":[{"filter":"datum.p=='C'"}],"mark":{"type":"rule","strokeWidth":2,"color":"black"},"encoding":{"y2":{"field":"top"}}},
{"data":{"name":"arrows"},"transform":[{"filter":"datum.p=='C'"}],"mark":{"type":"point","shape":"M-0.55,-1L0.55,-1L0,1Z","filled":true,"opacity":1,"color":"black","size":121,"yOffset":-5.5}},
{"data":{"name":"letters"},"transform":[{"filter":"datum.p=='C'"}],"mark":{"type":"text","fontSize":22,"fontWeight":"bold","font":"Liberation Sans","align":"center","baseline":"middle","color":"black"},"encoding":{"text":{"field":"txt"}}},
{"data":{"name":"names"},"transform":[{"filter":"datum.p=='C'"}],"mark":{"type":"text","fontSize":18,"fontWeight":"bold","font":"Liberation Sans","align":"center","baseline":"middle","color":"black"},"encoding":{"text":{"field":"txt"}}}
]}
],
"spacing":14,
"config":{
"view":{"stroke":null},
"font":"Liberation Sans",
"axis":{"grid":false,"domainColor":"black","domainWidth":2,"tickColor":"black","tickWidth":2,"labelFont":"Liberation Sans","labelFontSize":13,"labelFontWeight":"bold","labelColor":"black","titleFont":"Liberation Sans","titleFontWeight":"bold","titleColor":"black"},
"axisX":{"tickSize":5,"labelPadding":3,"titlePadding":7,"titleFontSize":17,"labelFlush":false},
"axisY":{"tickSize":6,"labelPadding":2,"titlePadding":5,"titleFontSize":16},
"legend":{"orient":"none","legendX":369,"legendY":320,"padding":0,"labelFont":"Liberation Sans","labelFontSize":16,"labelFontWeight":"bold","labelColor":"black","symbolSize":30,"symbolStrokeWidth":0,"rowPadding":2.5,"labelOffset":14,"labelLimit":400}
}
}
